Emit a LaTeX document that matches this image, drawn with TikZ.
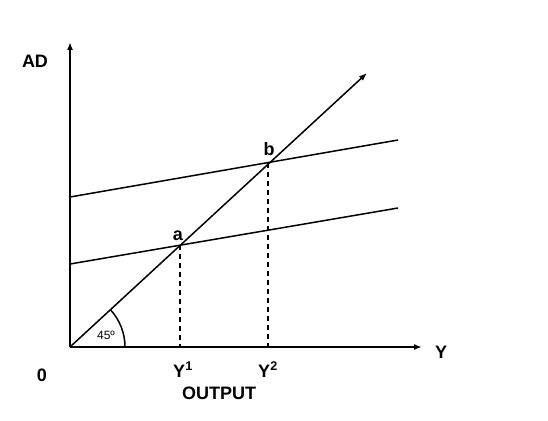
\documentclass[tikz,border=0pt]{standalone}
\usepackage{fontspec}
\setmainfont{Liberation Sans}
\usetikzlibrary{arrows.meta,calc,positioning}

\begin{document}
\begin{tikzpicture}[x=1pt,y=-1pt,
every node/.style={inner sep=0pt},
lbl/.style={font=\bfseries\fontsize{18}{21}\selectfont,anchor=base},
ax/.style={-{Latex[length=8pt,width=6pt]},line width=1.7pt},
ln/.style={line width=1.5pt},
drop/.style={line width=1.5pt,dash pattern=on 5pt off 4pt}]
\useasboundingbox[fill=white] (0,0) rectangle (548,420);
% axes
\coordinate (O) at (70,347);
\coordinate (ytop) at (70,42);
\coordinate (xend) at (422,347);
\draw[ax] (O)--(ytop);
\draw[ax] (O)--(xend);
% 45 degree line and AD lines
\coordinate (top) at (367,73);
\draw[ln,-{Latex[length=8pt,width=6pt]}] (O)--(top);
\coordinate (ad1l) at (70,264);\coordinate (ad1r) at (398,208);
\coordinate (ad2l) at (70,197);\coordinate (ad2r) at (398,140);
\draw[ln] (ad1l)--(ad1r);
\draw[ln] (ad2l)--(ad2r);
\coordinate (a) at (180,245.2);
\coordinate (b) at (268,162.6);
\coordinate (y1) at (180,347);
\coordinate (y2) at (268,347);
\draw[drop] (a)--(y1);
\draw[drop] (b)--(y2);
\draw[ln] (O) ++(55,0) arc[start angle=0,end angle=-42.7,radius=55];
% labels
\node[lbl] (adlab) at (35,67) {AD};
\node[lbl] (zero) at (42,381) {0};
\node[lbl] (ylab) at (441,358) {Y};
\node[lbl] (y1lab) at (183,377) {Y\textsuperscript{1}};
\node[lbl] (y2lab) at (268,377) {Y\textsuperscript{2}};
\node[lbl] (outlab) at (219,399) {OUTPUT};
\node[lbl] (alab) at (178,240) {a};
\node[lbl] (blab) at (269,155) {b};
\node[anchor=base,font=\fontsize{12}{14}\selectfont] (deg) at (106,339) {45º};
\end{tikzpicture}
\end{document}
